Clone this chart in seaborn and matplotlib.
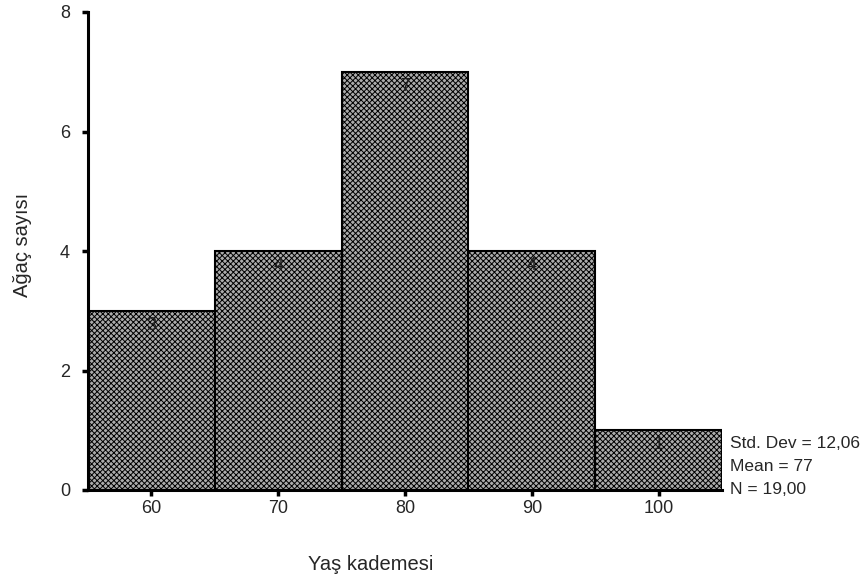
import matplotlib
matplotlib.use("Agg")
import matplotlib.pyplot as plt
import seaborn as sns
import pandas as pd

# Data
age_classes = [60, 70, 80, 90, 100]
tree_counts = [3, 4, 7, 4, 1]
bin_edges = [55, 65, 75, 85, 95, 105]
y_ticks = [0, 2, 4, 6, 8]
stats_lines = ["Std. Dev = 12,06", "Mean = 77", "N = 19,00"]

sns.set_style("white")
plt.rcParams['font.family'] = ['Liberation Sans', 'DejaVu Sans']
plt.rcParams['hatch.color'] = '#404040'
plt.rcParams['hatch.linewidth'] = 0.7

df = pd.DataFrame({"age": age_classes, "count": tree_counts})

fig = plt.figure(figsize=(8.63, 5.8), dpi=100)
ax = fig.add_axes([88/863, 1-490/580, (722-88)/863, (490-12)/580])

sns.histplot(data=df, x="age", weights="count", bins=bin_edges, ax=ax,
             color="#ababab", alpha=1.0, edgecolor="black", linewidth=1.5,
             hatch="xxxxxx")

ax.set_xlim(55, 105)
ax.set_ylim(0, 8)
ax.set_xticks(age_classes)
ax.set_yticks(y_ticks)
ax.tick_params(axis='x', labelsize=13, direction='out', length=4, width=2.5,
               color='black', bottom=True, pad=3)
ax.tick_params(axis='y', labelsize=13, direction='out', length=4, width=2.5,
               color='black', left=True, pad=9)

for s in ["top", "right"]:
    ax.spines[s].set_visible(False)
for s in ["left", "bottom"]:
    ax.spines[s].set_linewidth(2.2)
    ax.spines[s].set_color("black")

for x, c in zip(age_classes, tree_counts):
    ax.text(x, c - 0.24, str(c), ha='center', va='center', fontsize=13, color='#1e1e1e')

ax.set_xlabel("")
ax.set_ylabel("")
fig.text(371/863, 1-565/580, "Yaş kademesi", ha='center', va='center', fontsize=14.5)
fig.text(22/863, 1-245/580, "Ağaç sayısı", ha='center', va='center', fontsize=14.5, rotation=90)

for i, t in enumerate(stats_lines):
    fig.text(730/863, 1-(443 + 23.5*i)/580, t, ha='left', va='center', fontsize=12.5)

fig.savefig("out.png", dpi=100)
